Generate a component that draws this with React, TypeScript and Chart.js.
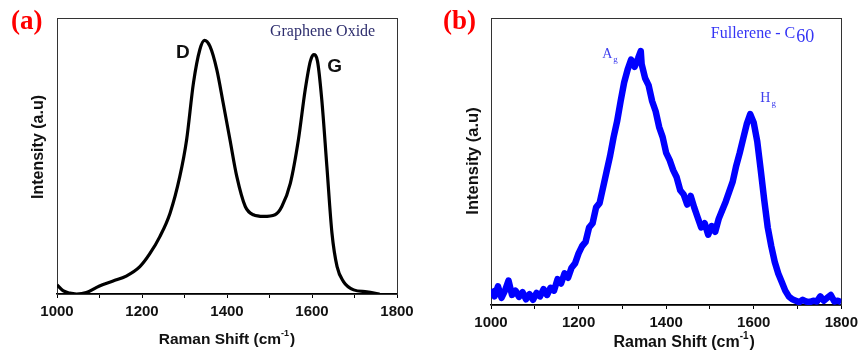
import React, { useEffect, useRef } from "react";
import { Chart, registerables } from "chart.js";
Chart.register(...registerables);

// ---- Data ----
const xTickValues = [1000, 1200, 1400, 1600, 1800];

const goShift = [1000, 1014, 1030, 1046, 1069, 1100, 1132, 1163, 1195, 1218, 1242, 1266, 1289, 1305, 1321, 1336, 1347, 1360, 1376, 1391, 1407, 1423, 1443, 1462, 1486, 1513, 1529, 1549, 1568, 1584, 1596, 1604, 1613, 1623, 1635, 1647, 1659, 1674, 1698, 1729, 1759];
const goIntensity = [3.3, 1.2, 0.3, 0, 0.5, 2.9, 4.7, 6.5, 9.9, 14.5, 20.8, 29.3, 42.6, 55.9, 76.4, 88.5, 91.9, 89.7, 81.3, 69.2, 55.9, 42.6, 31.7, 28.7, 28.1, 28.7, 31.7, 40.1, 55.9, 74.0, 84.3, 86.7, 84.3, 70.4, 46.2, 22.0, 9.9, 4.5, 1.5, 0.8, 0];

const c60Shift = [1000, 1008, 1016, 1024, 1032, 1040, 1048, 1056, 1064, 1072, 1080, 1088, 1096, 1104, 1112, 1120, 1128, 1136, 1144, 1152, 1160, 1168, 1176, 1184, 1192, 1200, 1208, 1216, 1224, 1232, 1240, 1248, 1256, 1264, 1272, 1280, 1288, 1296, 1304, 1312, 1320, 1328, 1336, 1342, 1344, 1352, 1360, 1368, 1376, 1384, 1392, 1400, 1408, 1416, 1424, 1432, 1440, 1448, 1456, 1464, 1472, 1480, 1488, 1496, 1504, 1512, 1520, 1528, 1536, 1544, 1552, 1560, 1568, 1576, 1584, 1592, 1600, 1608, 1616, 1624, 1632, 1640, 1648, 1656, 1664, 1672, 1680, 1688, 1696, 1704, 1712, 1720, 1728, 1736, 1744, 1752, 1760, 1768, 1776, 1784, 1792, 1800];
const c60Intensity = [5.5, 3.0, 6.5, 2.5, 5.0, 8.5, 3.5, 5.0, 2.8, 4.5, 2.0, 3.8, 1.8, 4.2, 3.0, 5.5, 3.5, 6.0, 5.0, 9.0, 7.5, 11.0, 9.5, 13.0, 14.5, 18.0, 20.5, 22.0, 27.0, 28.5, 34.0, 35.5, 41.0, 46.5, 52.0, 58.5, 64.0, 71.0, 77.5, 82.0, 85.5, 83.0, 86.0, 88.5, 84.0, 79.0, 76.5, 71.0, 67.5, 62.0, 58.5, 53.0, 50.5, 47.0, 44.5, 40.0, 38.5, 35.0, 38.0, 34.0, 30.5, 27.0, 28.5, 24.5, 27.5, 25.5, 30.0, 33.0, 36.0, 39.5, 43.0, 48.5, 53.0, 58.0, 63.0, 66.5, 63.5, 57.0, 47.0, 36.5, 27.0, 20.5, 15.0, 11.0, 8.0, 5.0, 3.0, 2.0, 1.5, 1.0, 1.8, 1.2, 1.0, 1.5, 1.2, 3.0, 1.5, 2.5, 3.5, 1.2, 1.5, 1.0];

const SANS = '"Liberation Sans", Arial, sans-serif';
const SERIF = '"Liberation Serif", "Times New Roman", serif';

type Label = {
  text: string;
  sub?: string;
  x: number; // data x
  y: number; // data y
  font: string;
  subFont?: string;
  subDy?: number;
  color: string;
};

type PanelProps = {
  left: number;
  width: number;
  pad: { left: number; right: number; top: number };
  axisHeight: number;
  tickPad: number;
  xs: number[];
  ys: number[];
  color: string;
  lineWidth: number;
  tension: number;
  tag: string;
  tagPos: [number, number];
  xTitleDx: number;
  xTitleY: number;
  xTitleSize: number;
  yTitleSize: number;
  yTitleX: number;
  yTitleY: number;
  labels: Label[];
};

function Panel(p: PanelProps) {
  const ref = useRef<HTMLCanvasElement | null>(null);
  useEffect(() => {
    const canvas = ref.current!;
    const data = p.xs.map((x, i) => ({ x, y: p.ys[i] }));
    const overlay = {
      id: "overlay",
      beforeDatasetsDraw(chart: any) {
        const { ctx, chartArea: a } = chart;
        ctx.save();
        ctx.strokeStyle = "#333";
        ctx.lineWidth = 1;
        ctx.strokeRect(Math.round(a.left) + 0.5, Math.round(a.top) + 0.5, Math.round(a.right - a.left), Math.round(a.bottom - a.top));
        ctx.restore();
      },
      afterDraw(chart: any) {
        const { ctx, chartArea: a, scales } = chart;
        ctx.save();
        // panel tag
        ctx.fillStyle = "#ff0000";
        ctx.font = `bold 27px ${SERIF}`;
        ctx.textAlign = "left";
        ctx.textBaseline = "middle";
        ctx.fillText(p.tag, p.tagPos[0], p.tagPos[1]);
        // labels
        for (const l of p.labels) {
          const px = scales.x.getPixelForValue(l.x);
          const py = scales.y.getPixelForValue(l.y);
          ctx.fillStyle = l.color;
          ctx.font = l.font;
          ctx.textAlign = "left";
          ctx.textBaseline = "alphabetic";
          ctx.fillText(l.text, px, py);
          if (l.sub) {
            const w = ctx.measureText(l.text).width;
            ctx.font = l.subFont || l.font;
            ctx.fillText(l.sub, px + w + 1, py + (l.subDy || 0));
          }
        }
        // x title with superscript
        const size = p.xTitleSize;
        const mainFont = `bold ${size}px ${SANS}`;
        const supFont = `bold ${Math.round(size * 0.6)}px ${SANS}`;
        ctx.fillStyle = "#111";
        ctx.textBaseline = "middle";
        ctx.textAlign = "left";
        ctx.font = mainFont;
        const m = "Raman Shift (cm";
        const e = ")";
        const wm = ctx.measureText(m).width;
        const we = ctx.measureText(e).width;
        ctx.font = supFont;
        const ws = ctx.measureText("-1").width;
        const total = wm + ws + we + 1;
        const cx = (a.left + a.right) / 2 + p.xTitleDx;
        let sx = cx - total / 2;
        ctx.font = mainFont;
        ctx.fillText(m, sx, p.xTitleY);
        sx += wm;
        ctx.font = supFont;
        ctx.fillText("-1", sx, p.xTitleY - size * 0.45);
        sx += ws + 1;
        ctx.font = mainFont;
        ctx.fillText(e, sx, p.xTitleY);
        // y title
        ctx.translate(p.yTitleX, p.yTitleY);
        ctx.rotate(-Math.PI / 2);
        ctx.textAlign = "center";
        ctx.font = `bold ${p.yTitleSize}px ${SANS}`;
        ctx.fillText("Intensity (a.u)", 0, 0);
        ctx.restore();
      },
    };
    const chart = new Chart(canvas, {
      type: "line",
      data: {
        datasets: [
          {
            data,
            borderColor: p.color,
            borderWidth: p.lineWidth,
            borderJoinStyle: "round",
            pointRadius: 0,
            fill: false,
            tension: p.tension,
            cubicInterpolationMode: p.tension > 0 ? "monotone" : "default",
          } as any,
        ],
      },
      options: {
        responsive: false,
        animation: false,
        events: [],
        layout: { padding: { left: p.pad.left, right: p.pad.right, top: p.pad.top, bottom: 0 } },
        plugins: { legend: { display: false }, tooltip: { enabled: false } },
        scales: {
          x: {
            type: "linear",
            min: 1000,
            max: 1800,
            afterFit(scale: any) {
              scale.height = p.axisHeight;
            },
            afterBuildTicks(scale: any) {
              const t: any[] = [];
              for (let i = 0; i < xTickValues.length; i++) {
                t.push({ value: xTickValues[i] });
                if (i < xTickValues.length - 1) t.push({ value: (xTickValues[i] + xTickValues[i + 1]) / 2 });
              }
              scale.ticks = t;
            },
            ticks: {
              autoSkip: false,
              maxRotation: 0,
              padding: p.tickPad,
              color: "#111",
              font: { family: SANS, size: 15, weight: "bold" },
              callback: (v: any) => (xTickValues.includes(Number(v)) ? String(v) : ""),
            },
            grid: { drawOnChartArea: false, drawTicks: true, tickLength: 4, color: "#000", lineWidth: 1 },
            border: { display: true, color: "#000", width: 1.5 },
          },
          y: { display: false, min: 0, max: 100 },
        },
      } as any,
      plugins: [overlay],
    });
    return () => chart.destroy();
  }, []);
  return (
    <canvas
      ref={ref}
      width={p.width}
      height={356}
      style={{ position: "absolute", left: p.left, top: 0, width: p.width, height: 356, display: "block" }}
    />
  );
}

export default function App() {
  return (
    <div style={{ position: "absolute", left: 0, top: 0, width: 863, height: 356, background: "#fff", overflow: "hidden" }}>
      <Panel
        left={0}
        width={431}
        pad={{ left: 57, right: 34, top: 18 }}
        axisHeight={62}
        tickPad={5}
        xs={goShift}
        ys={goIntensity}
        color="#000"
        lineWidth={3.2}
        tension={0.4}
        tag="(a)"
        tagPos={[11, 22]}
        xTitleDx={0}
        xTitleY={340}
        xTitleSize={15.5}
        yTitleSize={16}
        yTitleX={39}
        yTitleY={147}
        labels={[
          { text: "Graphene Oxide", x: 1501, y: 93.3, font: `16px ${SERIF}`, color: "#2e2e6e" },
          { text: "D", x: 1280, y: 85.5, font: `bold 19px ${SANS}`, color: "#111" },
          { text: "G", x: 1636, y: 80.5, font: `bold 19px ${SANS}`, color: "#111" },
        ]}
      />
      <Panel
        left={433}
        width={430}
        pad={{ left: 58, right: 18, top: 18 }}
        axisHeight={51}
        tickPad={5}
        xs={c60Shift}
        ys={c60Intensity}
        color="#0000ff"
        lineWidth={6.5}
        tension={0}
        tag="(b)"
        tagPos={[10, 22]}
        xTitleDx={18}
        xTitleY={343}
        xTitleSize={16}
        yTitleSize={16.5}
        yTitleX={40}
        yTitleY={161}
        labels={[
          { text: "Fullerene - C", sub: "60", x: 1502, y: 93.1, font: `16px ${SERIF}`, subFont: `18px ${SERIF}`, subDy: 4, color: "#3535f5" },
          { text: "A", sub: "g", x: 1254, y: 86.1, font: `14px ${SERIF}`, subFont: `9px ${SERIF}`, subDy: 4, color: "#4040ee" },
          { text: "H", sub: "g", x: 1615, y: 70.7, font: `14px ${SERIF}`, subFont: `9px ${SERIF}`, subDy: 4, color: "#4040ee" },
        ]}
      />
    </div>
  );
}
